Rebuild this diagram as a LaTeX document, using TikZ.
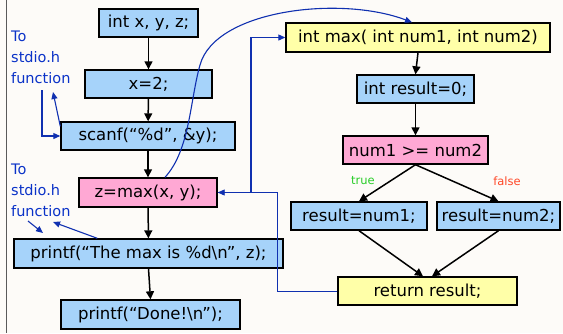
\documentclass[tikz,border=0pt]{standalone}
\usepackage{fontspec}
\setmainfont{DejaVu Sans}
\usetikzlibrary{arrows.meta,calc}

\definecolor{paper}{RGB}{253,251,248}
\definecolor{boxblue}{RGB}{166,211,250}
\definecolor{boxpink}{RGB}{255,168,212}
\definecolor{boxyellow}{RGB}{255,255,168}
\definecolor{callblue}{RGB}{16,48,176}
\definecolor{notblue}{RGB}{10,50,200}
\definecolor{truegreen}{RGB}{40,205,40}
\definecolor{falsered}{RGB}{255,72,40}
\definecolor{framegray}{RGB}{90,90,90}

\begin{document}
\begin{tikzpicture}[x=1pt,y=-1pt,
  stmt/.style={draw=black, line width=1.4pt, inner sep=0pt,
    font=\fontsize{16.5}{18}\selectfont},
  plain/.style={stmt, fill=boxblue},
  call/.style={stmt, fill=boxpink},
  func/.style={stmt, fill=boxyellow},
  flow/.style={draw=black, line width=1.5pt, -{Triangle[length=8pt,width=8pt]}},
  callarrow/.style={draw=callblue, line width=1.1pt, -{Triangle[length=7pt,width=6pt]}},
  note/.style={text=notblue, align=left, inner sep=0pt, anchor=north west,
    font=\fontsize{14.5}{21}\selectfont},
  branch/.style={inner sep=0pt, font=\fontsize{11.5}{13}\selectfont}]

% page and left rule
\useasboundingbox (0,0) rectangle (563,333);
\fill[paper] (0,0) rectangle (563,333);
\draw[framegray, line width=1.2pt] (6.5,0) -- (6.5,333);

% main program
\node[plain, minimum width=99pt,  minimum height=28pt] (n1) at (148.5,23)    {int x, y, z;};
\node[plain, minimum width=127pt, minimum height=28pt] (n2) at (148.5,84)    {x=2;};
\node[plain, minimum width=174pt, minimum height=28pt] (n3) at (148,136)     {scanf(“\%d”, \&y);};
\node[call,  minimum width=138pt, minimum height=29pt] (n4) at (148,192.5)   {z=max(x, y);};
\node[plain, minimum width=269pt, minimum height=29pt] (n5) at (148.5,253.5) {printf(“The max is \%d\textbackslash n”, z);};
\node[plain, minimum width=179pt, minimum height=29pt] (n6) at (150.5,314.5) {printf(“Done!\textbackslash n”);};

% function max
\node[func,  minimum width=264pt, minimum height=29pt] (m1) at (418,37.5)  {int max( int num1, int num2)};
\node[plain, minimum width=117pt, minimum height=28pt] (m2) at (415.5,89)  {int result=0;};
\node[call,  minimum width=145pt, minimum height=28pt] (m3) at (415.5,150) {num1 >= num2};
\node[plain, minimum width=136pt, minimum height=28pt] (m4) at (359,216)   {result=num1;};
\node[plain, minimum width=123pt, minimum height=28pt] (m5) at (498.5,216) {result=num2;};
\node[func,  minimum width=179pt, minimum height=28pt] (m6) at (427.5,291) {return result;};

\node[branch, text=truegreen] (tlab) at (363,181) {true};
\node[branch, text=falsered]  (flab) at (507,181) {false};

% library notes
\node[note] (lib1) at (11,31)    {To\\stdio.h\\function};
\node[note] (lib2) at (11,163.5) {To\\stdio.h\\function};

% control flow
\draw[flow] (n1) -- (n2);
\draw[flow] (n2) -- (n3);
\draw[flow] (n3) -- (n4);
\draw[flow] (n4) -- (n5);
\draw[flow] (n5.south) -- (n6.north);
\draw[flow] (m1.south) -- (m2.north);
\draw[flow] (m2) -- (m3);
\draw[flow] (m3.south) -- (m4.north);
\draw[flow] (m3.south) -- (m5.north);
\draw[flow] (m4.south) -- ($(m6.north)+(-4.5,0)$);
\draw[flow] (m5.south) -- ($(m6.north)+(4.5,0)$);

% call into max and return
\coordinate (jB) at (251,192.5);
\coordinate (jA) at (277,192.5);
\draw[callarrow] ($(n4.north)+(17,0)$) .. controls (190,150) and (190,100) .. (200,65)
  .. controls (215,10) and (340,-5) .. ($(m1.north)+(-6,0)$);
\draw[callarrow] (n4.east) -- (jB) |- (m1.west);
\draw[callarrow, line width=0.9pt] (m6.west) -| (jA) -- (n4.east);

% calls into the library
\coordinate (l1a) at (42,90);
\coordinate (l1b) at (53,92);
\draw[callarrow] (l1a) |- (n3.west);
\draw[callarrow] ($(n3.north west)+(0,5)$) -- (l1b);
\coordinate (l2a) at (28,221);
\coordinate (l2b) at (43,233);
\coordinate (l2c) at (53,222);
\draw[callarrow] (l2a) -- (l2b);
\draw[callarrow] ($(n5.north west)+(84,0)$) -- (l2c);

\end{tikzpicture}
\end{document}
